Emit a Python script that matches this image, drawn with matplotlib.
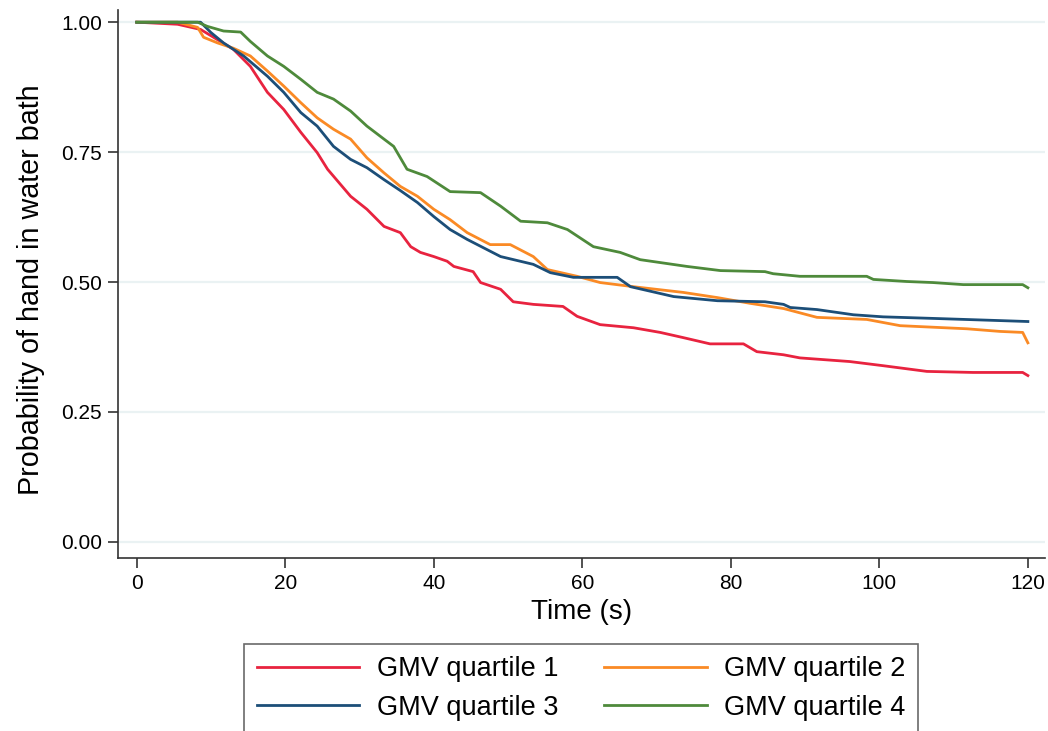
import numpy as np
import matplotlib
matplotlib.use('Agg')
import matplotlib.pyplot as plt

# =====================================
# Kaplan-Meier style curves
# =====================================
t_q1 = [0, 5.5, 8.6, 13, 15.3, 17.6, 19.8, 22.1, 24.3, 25.7, 28.8, 31, 33.3, 35.5, 36.9, 38.2, 40,
        41.8, 42.7, 45.3, 46.3, 49, 50.7, 53.4, 57.4, 59.3, 62.4, 66.9, 70.5, 73.6, 77.2, 81.7,
        83.5, 87.1, 89.3, 96, 100.5, 106.4, 112.6, 119.3, 120]
p_q1 = [1.0, 0.996, 0.986, 0.948, 0.915, 0.865, 0.832, 0.788, 0.749, 0.717, 0.665, 0.64, 0.607,
        0.595, 0.568, 0.557, 0.549, 0.54, 0.53, 0.52, 0.499, 0.486, 0.462, 0.457, 0.453, 0.434,
        0.418, 0.412, 0.403, 0.393, 0.381, 0.381, 0.366, 0.36, 0.354, 0.347, 0.339, 0.328, 0.326,
        0.326, 0.32]

t_q2 = [0, 5.5, 8.2, 9, 10.9, 13, 15.3, 17.6, 19.8, 22.1, 24.3, 26.5, 28.8, 31, 33.3, 35.5, 37.8,
        40, 42.2, 44.5, 47.6, 50.3, 53.4, 55.3, 59.3, 62.4, 66.9, 73.6, 78.2, 82.6, 87.1, 91.6,
        98.3, 102.8, 111.8, 116.2, 119.3, 120]
p_q2 = [1.0, 1.0, 0.99, 0.971, 0.96, 0.95, 0.935, 0.906, 0.877, 0.845, 0.816, 0.794, 0.775, 0.739,
        0.71, 0.684, 0.665, 0.64, 0.62, 0.595, 0.572, 0.572, 0.549, 0.524, 0.511, 0.499, 0.491,
        0.48, 0.47, 0.459, 0.449, 0.432, 0.428, 0.416, 0.41, 0.405, 0.403, 0.383]

t_q3 = [0, 8.6, 10, 11.7, 14.4, 17.6, 19.8, 22.1, 24.3, 26.5, 28.8, 31, 33.3, 35.5, 37.8, 40, 42.2,
        44.5, 49, 53.4, 55.7, 58.8, 64.7, 66.5, 72.3, 78.2, 84.6, 87.1, 88, 91.6, 96.5, 100.5,
        107.2, 115.8, 120]
p_q3 = [1.0, 1.0, 0.98, 0.96, 0.935, 0.896, 0.865, 0.826, 0.8, 0.761, 0.736, 0.72, 0.697, 0.676,
        0.653, 0.626, 0.601, 0.582, 0.549, 0.534, 0.518, 0.509, 0.509, 0.491, 0.472, 0.464, 0.462,
        0.457, 0.451, 0.447, 0.437, 0.433, 0.43, 0.426, 0.424]

t_q4 = [0, 8.2, 9.5, 11.7, 14, 15.3, 17.6, 19.8, 22.1, 24.3, 26.5, 28.8, 31, 33.3, 34.6, 36.4,
        39.1, 42.2, 46.3, 49, 51.7, 55.3, 58, 61.5, 65.1, 67.8, 74.1, 78.6, 84.6, 85.7, 89.3, 98.3,
        99.2, 103.7, 107.2, 111.3, 119.3, 120]
p_q4 = [1.0, 1.0, 0.992, 0.983, 0.981, 0.963, 0.935, 0.915, 0.89, 0.865, 0.852, 0.829, 0.8, 0.775,
        0.761, 0.717, 0.703, 0.674, 0.672, 0.646, 0.617, 0.614, 0.601, 0.568, 0.557, 0.543, 0.53,
        0.522, 0.52, 0.516, 0.511, 0.511, 0.505, 0.501, 0.499, 0.495, 0.495, 0.489]

labels = ['GMV quartile 1', 'GMV quartile 2', 'GMV quartile 3', 'GMV quartile 4']
colors = ['#E8233F', '#FA8A25', '#1C4E78', '#4E8A3B']
x_ticks = [0, 20, 40, 60, 80, 100, 120]
y_ticks = [0.0, 0.25, 0.5, 0.75, 1.0]

plt.rcParams['font.family'] = ['Liberation Sans', 'DejaVu Sans']

# =========================
# Plot
# =========================
fig = plt.figure(figsize=(10.48, 7.31), dpi=100)
ax = fig.add_axes([0.1126, 0.2367, 0.8845, 0.7493])

series = [(t_q1, p_q1), (t_q2, p_q2), (t_q3, p_q3), (t_q4, p_q4)]
lines = []
for (t, p), lab, col in zip(series, labels, colors):
    ln, = ax.plot(t, p, color=col, lw=2, label=lab)
    lines.append(ln)

ax.set_xlim(-2.52, 122.3)
ax.set_ylim(-0.031, 1.023)
ax.set_xticks(x_ticks)
ax.set_yticks(y_ticks)
ax.set_yticklabels(['%.2f' % v for v in y_ticks])
ax.yaxis.grid(True, color='#EAF2F3', lw=1.6)
ax.set_axisbelow(True)
for s in ['top', 'right']:
    ax.spines[s].set_visible(False)
for s in ['left', 'bottom']:
    ax.spines[s].set_color('#333333')
    ax.spines[s].set_linewidth(1.2)
ax.tick_params(length=7.2, width=1.2, color='#333333', labelsize=15, pad=4.5)
ax.set_xlabel('Time (s)', fontsize=20, labelpad=4)
ax.set_ylabel('Probability of hand in water bath', fontsize=20.7)
ax.yaxis.set_label_coords(-0.079, 0.49)

# row-major order like the original: 1 2 / 3 4
order = [0, 2, 1, 3]
leg = fig.legend([lines[i] for i in order], [labels[i] for i in order],
                 loc='upper center', bbox_to_anchor=(0.5544, 0.119), ncol=2, fontsize=19.5,
                 frameon=True, fancybox=False, edgecolor='#444444', handlelength=3.8,
                 handletextpad=0.63, columnspacing=1.7, borderpad=0.45, labelspacing=0.47,
                 borderaxespad=0)
leg.get_frame().set_linewidth(1.2)

plt.savefig('out.png', dpi=100)
